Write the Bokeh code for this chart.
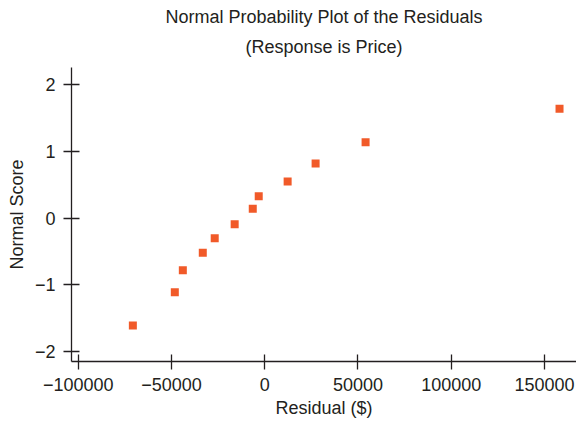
from bokeh.plotting import figure
from bokeh.models import FixedTicker, CustomJSTickFormatter, Range1d, Title
from bokeh.embed import file_html
from bokeh.resources import INLINE

# Data
residuals = [-70700, -48200, -43900, -33200, -26800, -16100, -6400, -3200, 12300, 27300, 54100, 158100]
normal_scores = [-1.61, -1.11, -0.78, -0.52, -0.30, -0.09, 0.14, 0.33, 0.55, 0.82, 1.14, 1.64]
x_ticks = [-100000, -50000, 0, 50000, 100000, 150000]
y_ticks = [-2, -1, 0, 1, 2]
title_lines = ["Normal Probability Plot of the Residuals", "(Response is Price)"]

FONT = "Liberation Sans"
INK = "#231f20"

p = figure(width=576, height=421, output_backend="svg", toolbar_location=None,
           x_range=Range1d(-103600, 167200), y_range=Range1d(-2.15, 2.26),
           min_border_left=71, min_border_right=0, min_border_top=67, min_border_bottom=60)

# first title line is the outer one; the second is added closer to the frame
p.title.text = title_lines[0]
p.title.align = "center"
p.title.offset = -4
p.title.text_font = FONT
p.title.text_font_size = "18px"
p.title.text_font_style = "normal"
p.title.text_color = INK
p.title.standoff = -6
p.add_layout(Title(text=title_lines[1], align="center", text_font=FONT,
                   text_font_size="18px", text_font_style="normal",
                   text_color=INK, standoff=22), "above")

p.scatter(residuals, normal_scores, marker="square", size=8,
          fill_color="#F15A29", line_color=None)

p.xgrid.visible = False
p.ygrid.visible = False
p.outline_line_color = None
p.background_fill_color = "white"
p.border_fill_color = "white"

fmt = CustomJSTickFormatter(code="return tick < 0 ? '\\u2212' + String(-tick) : String(tick);")

for ax, ticks in ((p.xaxis[0], x_ticks), (p.yaxis[0], y_ticks)):
    ax.ticker = FixedTicker(ticks=ticks)
    ax.formatter = fmt
    ax.axis_line_color = INK
    ax.axis_line_width = 1.3
    ax.major_tick_line_color = INK
    ax.major_tick_line_width = 1.3
    ax.major_tick_in = 8
    ax.major_tick_out = 8
    ax.minor_tick_line_color = None
    ax.major_label_text_font = FONT
    ax.major_label_text_font_size = "18px"
    ax.major_label_text_color = INK
    ax.major_label_standoff = 8
    ax.axis_label_text_font = FONT
    ax.axis_label_text_font_size = "18px"
    ax.axis_label_text_font_style = "normal"
    ax.axis_label_text_color = INK

p.xaxis.axis_label = "Residual ($)"
p.yaxis.axis_label = "Normal Score"
p.xaxis.axis_label_standoff = 4
p.yaxis.axis_label_standoff = 5
p.xaxis.major_tick_in = 7

open("out.html", "w").write(file_html(p, INLINE))
